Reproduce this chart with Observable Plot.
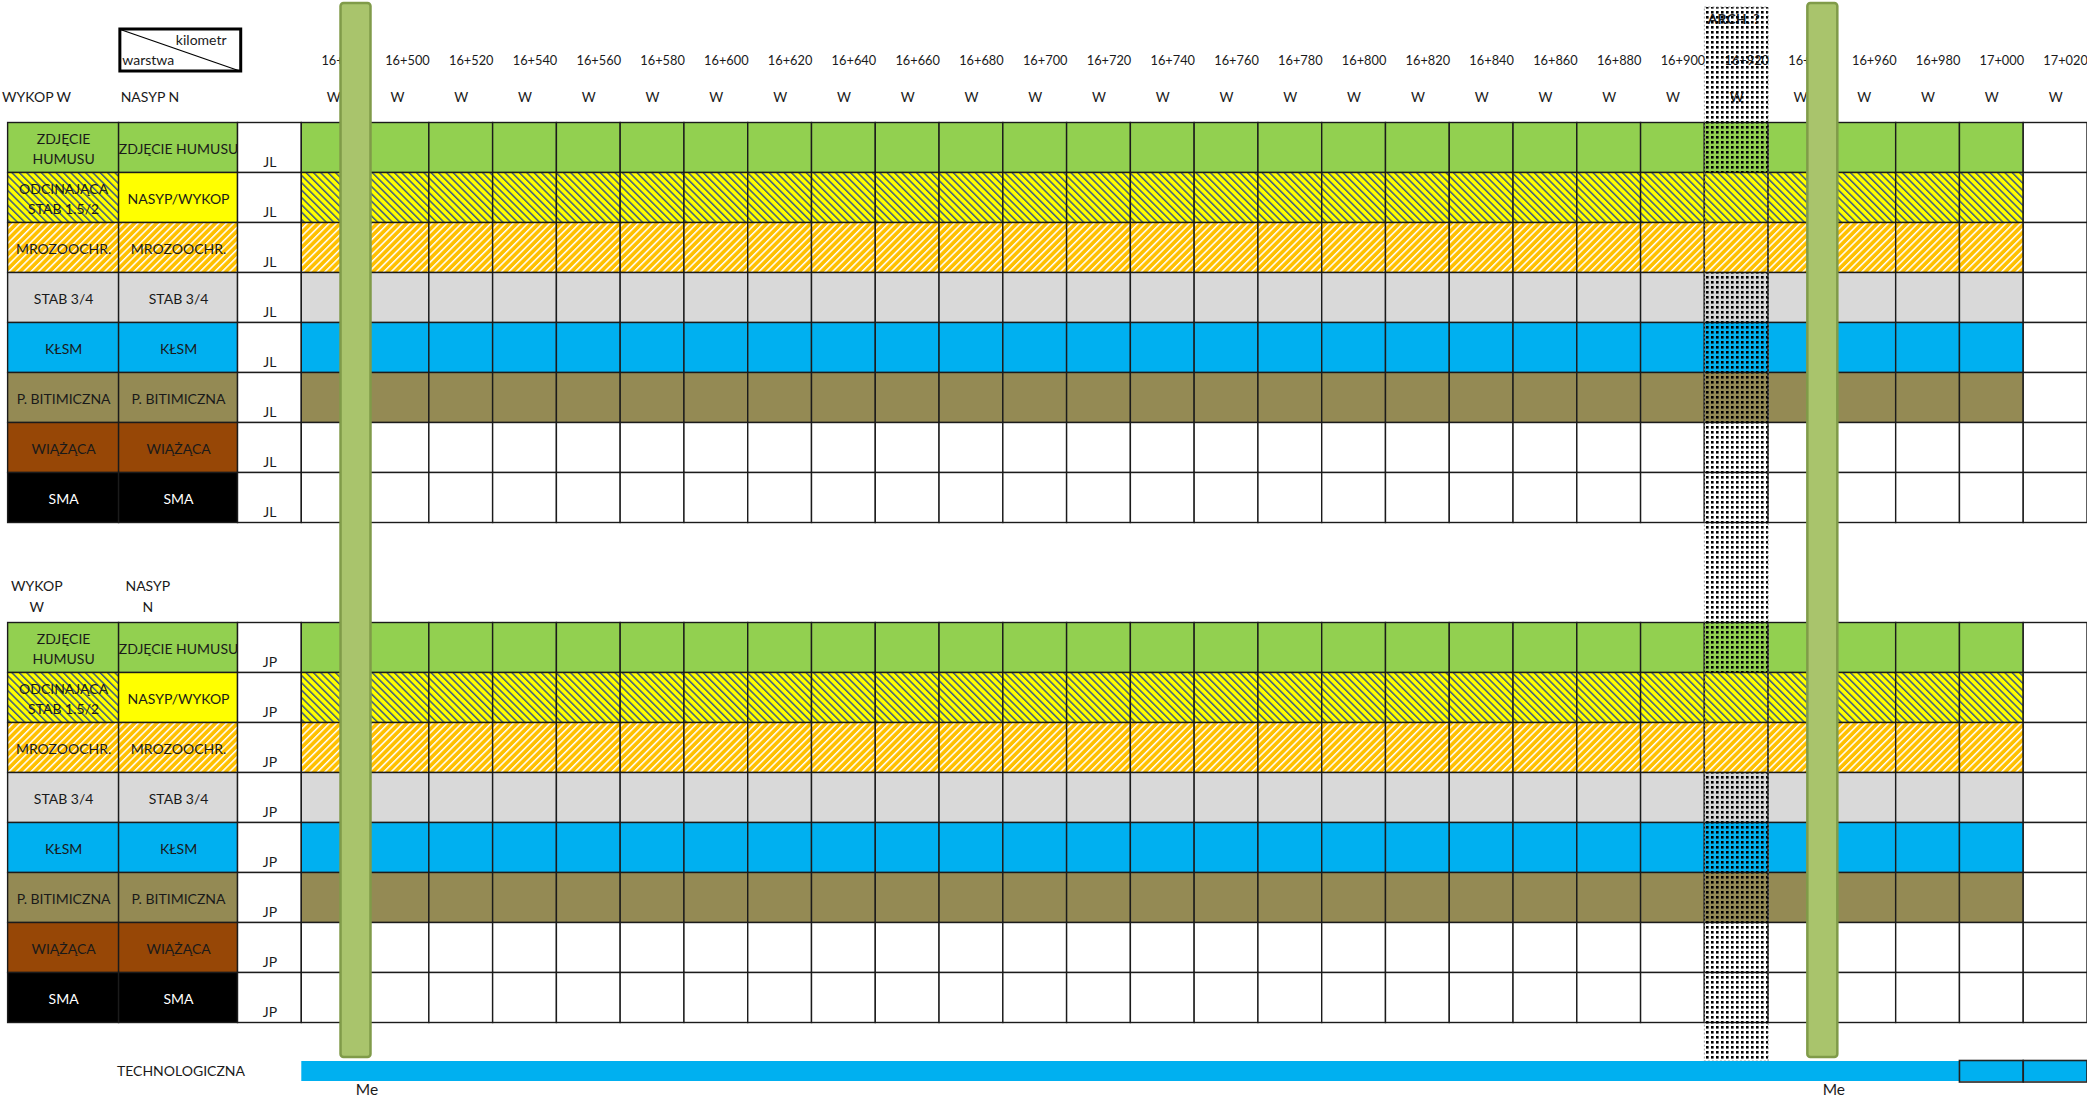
<!DOCTYPE html>
<html><head><meta charset="utf-8">
<script src="https://cdn.jsdelivr.net/npm/d3@7"></script>
<script src="https://cdn.jsdelivr.net/npm/@observablehq/plot@0.6"></script>
<style>html,body{margin:0;padding:0;background:#fff;overflow:hidden}</style>
</head><body><div id="chart"></div>
<script>
// ---------- DATA ----------
const kmLabels = ["16+480","16+500","16+520","16+540","16+560","16+580","16+600","16+620","16+640","16+660","16+680","16+700","16+720","16+740","16+760","16+780","16+800","16+820","16+840","16+860","16+880","16+900","16+920","16+940","16+960","16+980","17+000","17+020"];
const kmStart = [480,500,520,540,560,580,600,620,640,660,680,700,720,740,760,780,800,820,840,860,880,900,920,940,960,980,1000,1020]; // metres past km 16
const sectionType = ["W","W","W","W","W","W","W","W","W","W","W","W","W","W","W","W","W","W","W","W","W","W","W","W","W","W","W","W"];
const layerNamesW = ["ZDJĘCIE\nHUMUSU","ODCINAJĄCA\nSTAB 1.5/2","MROZOOCHR.","STAB 3/4","KŁSM","P. BITIMICZNA","WIĄŻĄCA","SMA"];
const layerNamesN = ["ZDJĘCIE HUMUSU","NASYP/WYKOP","MROZOOCHR.","STAB 3/4","KŁSM","P. BITIMICZNA","WIĄŻĄCA","SMA"];
const layerKeysW = ["green","yellowHatch","orangeHatch","grey","blue","olive","brown","black"];
const layerKeysN = ["green","yellow","orangeHatch","grey","blue","olive","brown","black"];
const layerKeysData = ["green","yellowHatch","orangeHatch","grey","blue","olive","white","white"];
const layerDoneTo = [1000,1000,1000,1000,1000,1000,null,null]; // last finished station per layer
const lanes = ["JL","JP"];
const archStations = [920];
const meStations = [497, 957];
const techFrom = 480;
const techOutlined = [1000, 1020];

// ---------- STYLE / LAYOUT ----------
const FONT = "Lato, 'Open Sans', sans-serif";
const colors = {green:"#92D050", yellow:"#FFFF00", yellowHatch:"url(#hatchYellow)", orangeHatch:"url(#hatchOrange)",
  grey:"#D9D9D9", blue:"#00B0F0", olive:"#948A54", brown:"#974706", black:"#000000", white:"#FFFFFF"};
const textColor = {black:"#FFFFFF"};
const step = 20;
const cols = {w:[387.9,422.7], n:[422.7,460], lane:[460,480]};
const rowOf = (t, r) => t * 10 + r;
const xEnd = 1040;

// label cells
const labelCells = [], labelTexts = [], laneTexts = [];
lanes.forEach((lane, t) => {
  layerKeysW.forEach((k, r) => {
    const y = rowOf(t, r);
    labelCells.push({x1: cols.w[0], x2: cols.w[1], y, fill: colors[k]});
    labelCells.push({x1: cols.n[0], x2: cols.n[1], y, fill: colors[layerKeysN[r]]});
    labelCells.push({x1: cols.lane[0], x2: cols.lane[1], y, fill: colors.white});
    labelTexts.push({x: (cols.w[0]+cols.w[1])/2, y: y + 0.5, text: layerNamesW[r], fill: textColor[k] || "#1a1a1a"});
    labelTexts.push({x: (cols.n[0]+cols.n[1])/2, y: y + 0.5, text: layerNamesN[r], fill: textColor[layerKeysN[r]] || "#1a1a1a"});
    laneTexts.push({x: (cols.lane[0]+cols.lane[1])/2, y: y + 0.8, text: lane});
  });
});

// data cells
const dataCells = [];
lanes.forEach((lane, t) => layerKeysData.forEach((k, r) => kmStart.forEach(s => {
  const done = layerDoneTo[r] != null && s <= layerDoneTo[r];
  dataCells.push({x1: s, x2: s + step, y: rowOf(t, r), fill: done ? colors[k] : colors.white});
})));

// header texts
const kmTexts = kmStart.map((s, i) => ({x: s + step/2, text: kmLabels[i]}));
const typeTexts = kmStart.map((s, i) => ({x: s + step/2, text: sectionType[i]}));

const startNotes = [
  {x: 386.0, y: -0.51, text: "WYKOP W"},
  {x: 423.2, y: -0.51, text: "NASYP N"},
  {x: 423.7, y: -1.24, text: "warstwa"}
];
const middleNotes = [
  {x: 396.9, y: 9.27, text: "WYKOP"},
  {x: 396.9, y: 9.69, text: "W"},
  {x: 431.7, y: 9.27, text: "NASYP"},
  {x: 431.7, y: 9.69, text: "N"},
  {x: 442.1, y: 18.97, text: "TECHNOLOGICZNA"}
];
const endNotes = [{x: 456.4, y: -1.64, text: "kilometr"}];
const boxCorner = {x1: 423.1, x2: 461.0, y1: -1.87, y2: -1.03};

// arch overlay segments (dots skip the hatched rows)
const archSegments = [];
archStations.forEach(s => {
  [[-2.31, 1], [3, 11], [13, 18.77]].forEach(([a, b]) => archSegments.push({s, y1: a, y2: b}));
});

const txt = {fill: "#1a1a1a", fontSize: 14, fontFamily: FONT};

const svg = Plot.plot({
  width: 2087, height: 1100,
  margin: 0,
  x: {domain: [480, xEnd], range: [301.3, 2087], axis: null},
  y: {domain: [-2.45, 19.55], range: [0, 1100], axis: null},
  color: {type: "identity"},
  style: {background: "#fff"},
  marks: [
    Plot.rect(labelCells, {x1: "x1", x2: "x2", y1: "y", y2: d => d.y + 1, fill: "fill", stroke: "#1b1b1b", strokeWidth: 1.4}),
    Plot.rect(dataCells, {x1: "x1", x2: "x2", y1: "y", y2: d => d.y + 1, fill: "fill", stroke: "#1b1b1b", strokeWidth: 1.4}),
    Plot.text(labelTexts, {x: "x", y: "y", text: "text", fill: "fill", fontSize: 14, fontFamily: FONT, lineHeight: 1.42}),
    Plot.text(laneTexts, {x: "x", y: "y", text: "text", ...txt}),
    Plot.text(kmTexts, {x: "x", y: () => -1.25, text: "text", dx: 10, ...txt, fontSize: 12.8}),
    Plot.text(typeTexts, {x: "x", y: () => -0.51, text: "text", ...txt, fontSize: 13.5}),
    Plot.text(middleNotes, {x: "x", y: "y", text: "text", ...txt}),
    Plot.rect([boxCorner], {x1: "x1", x2: "x2", y1: "y1", y2: "y2", fill: "#fff", stroke: "#000", strokeWidth: 3}),
    Plot.link([boxCorner], {x1: "x1", y1: "y1", x2: "x2", y2: "y2", stroke: "#000", strokeWidth: 1.3}),
    Plot.text(startNotes, {x: "x", y: "y", text: "text", textAnchor: "start", ...txt}),
    Plot.text(endNotes, {x: "x", y: "y", text: "text", textAnchor: "end", ...txt}),
    Plot.text(archStations, {x: d => d, y: () => -2.07, text: () => "ARCH. ?", dx: 3, textAnchor: "start", fill: "#222", fontSize: 14, fontWeight: "bold", fontFamily: FONT}),
    Plot.rect(archSegments, {x1: "s", x2: d => d.s + step, y1: "y1", y2: "y2", fill: "url(#dots)"}),
    Plot.rect(archStations, {x1: d => d, x2: d => d + step, y1: () => -2.31, y2: () => 18.77, fill: "none", stroke: "#888", strokeWidth: 0.8, strokeDasharray: "2,2"}),
    Plot.rect([techFrom], {x1: d => d, x2: () => xEnd, y1: () => 18.77, y2: () => 19.17, fill: colors.blue}),
    Plot.rect(techOutlined, {x1: d => d, x2: d => d + step, y1: () => 18.76, y2: () => 19.19, fill: "none", stroke: "#222", strokeWidth: 1.6}),
    Plot.rect(meStations, {x1: d => d - 4.7, x2: d => d + 4.7, y1: () => -2.39, y2: () => 18.69, fill: "#A9C46C", stroke: "#809B49", strokeWidth: 2.5, rx: 3}),
    Plot.text(meStations, {x: d => d, y: () => 19.34, text: () => "Me", dx: 11, ...txt, fontSize: 15.5})
  ]
});

// patterns
const defs = d3.select(svg).insert("defs", ":first-child");
const py = defs.append("pattern").attr("id", "hatchYellow").attr("patternUnits", "userSpaceOnUse")
  .attr("width", 5.2).attr("height", 5.2).attr("patternTransform", "rotate(-45)");
py.append("rect").attr("width", 5.2).attr("height", 5.2).attr("fill", "#FFFF00");
py.append("rect").attr("width", 1.5).attr("height", 5.2).attr("fill", "#3E5A80");
const po = defs.append("pattern").attr("id", "hatchOrange").attr("patternUnits", "userSpaceOnUse")
  .attr("width", 5.2).attr("height", 5.2).attr("patternTransform", "rotate(45)");
po.append("rect").attr("width", 5.2).attr("height", 5.2).attr("fill", "#FFC000");
po.append("rect").attr("width", 1.5).attr("height", 5.2).attr("fill", "#FFFFFF");
const pd = defs.append("pattern").attr("id", "dots").attr("patternUnits", "userSpaceOnUse")
  .attr("width", 5).attr("height", 5);
pd.append("rect").attr("x", 1).attr("y", 1).attr("width", 2.6).attr("height", 2.6).attr("fill", "#000");

document.getElementById("chart").appendChild(svg);
</script></body></html>
